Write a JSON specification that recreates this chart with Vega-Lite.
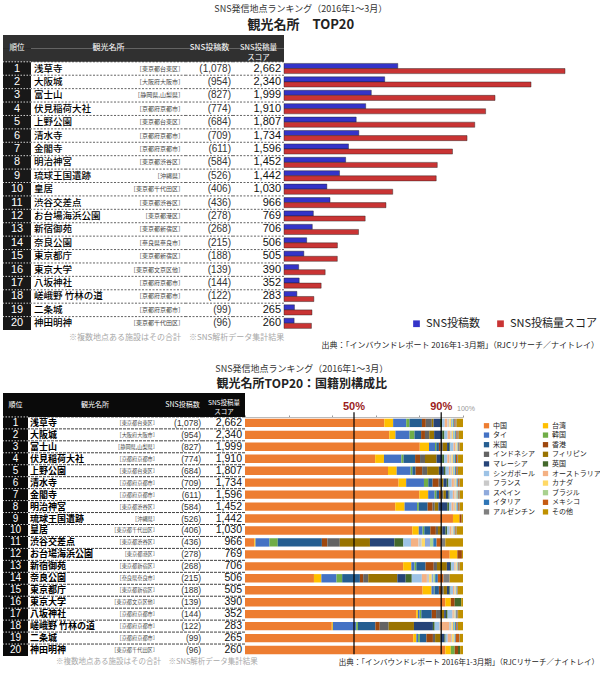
{
"$schema": "https://vega.github.io/schema/vega-lite/v6.json",
"background": "white",
"padding": {"left": 2, "top": 5, "right": 0, "bottom": 0},
"config": {"view": {"stroke": null}, "font": "Noto Sans CJK JP", "concat": {"spacing": 0}},
"resolve": {"scale": {"color": "independent"}, "legend": {"color": "independent"}},
"datasets": {
"top": [
{"rank":1,"name":"浅草寺","pref":"［東京都台東区］","posts":1078,"score":2662},
{"rank":2,"name":"大阪城","pref":"［大阪府大阪市］","posts":954,"score":2340},
{"rank":3,"name":"富士山","pref":"［静岡県,山梨県］","posts":827,"score":1999},
{"rank":4,"name":"伏見稲荷大社","pref":"［京都府京都市］","posts":774,"score":1910},
{"rank":5,"name":"上野公園","pref":"［東京都台東区］","posts":684,"score":1807},
{"rank":6,"name":"清水寺","pref":"［京都府京都市］","posts":709,"score":1734},
{"rank":7,"name":"金閣寺","pref":"［京都府京都市］","posts":611,"score":1596},
{"rank":8,"name":"明治神宮","pref":"［東京都渋谷区］","posts":584,"score":1452},
{"rank":9,"name":"琉球王国遺跡","pref":"［沖縄県］","posts":526,"score":1442},
{"rank":10,"name":"皇居","pref":"［東京都千代田区］","posts":406,"score":1030},
{"rank":11,"name":"渋谷交差点","pref":"［東京都渋谷区］","posts":436,"score":966},
{"rank":12,"name":"お台場海浜公園","pref":"［東京都港区］","posts":278,"score":769},
{"rank":13,"name":"新宿御苑","pref":"［東京都新宿区］","posts":268,"score":706},
{"rank":14,"name":"奈良公園","pref":"［奈良県奈良市］","posts":215,"score":506},
{"rank":15,"name":"東京都庁","pref":"［東京都新宿区］","posts":188,"score":505},
{"rank":16,"name":"東京大学","pref":"［東京都文京区他］","posts":139,"score":390},
{"rank":17,"name":"八坂神社","pref":"［京都府京都市］","posts":144,"score":352},
{"rank":18,"name":"嵯峨野 竹林の道","pref":"［京都府京都市］","posts":122,"score":283},
{"rank":19,"name":"二条城","pref":"［京都府京都市］","posts":99,"score":265},
{"rank":20,"name":"神田明神","pref":"［東京都千代田区］","posts":96,"score":260}
],
"countries": [
{"c":"中国","k":1},{"c":"台湾","k":2},{"c":"タイ","k":3},{"c":"韓国","k":4},{"c":"米国","k":5},{"c":"香港","k":6},{"c":"インドネシア","k":7},{"c":"フィリピン","k":8},{"c":"マレーシア","k":9},{"c":"英国","k":10},{"c":"シンガポール","k":11},{"c":"オーストラリア","k":12},{"c":"フランス","k":13},{"c":"カナダ","k":14},{"c":"スペイン","k":15},{"c":"ブラジル","k":16},{"c":"イタリア","k":17},{"c":"メキシコ","k":18},{"c":"アルゼンチン","k":19},{"c":"その他","k":20}
],
"mix": [
{"rank":1,"中国":64.8,"台湾":4.1,"タイ":6.1,"韓国":1.5,"米国":5.8,"香港":1.8,"インドネシア":2.8,"フィリピン":0.8,"マレーシア":3.0,"英国":1.0,"シンガポール":1.2,"オーストラリア":1.2,"フランス":1.0,"カナダ":0.8,"スペイン":0.5,"ブラジル":0.5,"イタリア":0.5,"メキシコ":0.5,"アルゼンチン":0.5,"その他":3.0},
{"rank":2,"中国":67.5,"台湾":2.9,"タイ":6.6,"韓国":2.3,"米国":3.1,"香港":1.8,"インドネシア":2.0,"フィリピン":2.3,"マレーシア":3.8,"英国":1.0,"シンガポール":1.5,"オーストラリア":1.2,"フランス":0.8,"カナダ":0.6,"スペイン":0.5,"ブラジル":0.5,"イタリア":0.5,"メキシコ":0.6,"アルゼンチン":0.5,"その他":2.0},
{"rank":3,"中国":81.2,"台湾":4.3,"タイ":2.8,"韓国":0.6,"米国":1.2,"香港":0.8,"インドネシア":1.0,"フィリピン":2.0,"マレーシア":1.0,"英国":0.5,"シンガポール":1.5,"オーストラリア":0.8,"フランス":0.5,"カナダ":0.3,"スペイン":0.3,"ブラジル":0.2,"イタリア":0.3,"メキシコ":0.3,"アルゼンチン":0.2,"その他":1.5},
{"rank":4,"中国":60.6,"台湾":4.1,"タイ":8.1,"韓国":1.0,"米国":5.4,"香港":2.3,"インドネシア":2.3,"フィリピン":5.4,"マレーシア":2.6,"英国":0.9,"シンガポール":1.5,"オーストラリア":1.0,"フランス":1.0,"カナダ":0.6,"スペイン":0.5,"ブラジル":0.4,"イタリア":0.5,"メキシコ":0.6,"アルゼンチン":0.4,"その他":2.3},
{"rank":5,"中国":65.8,"台湾":4.0,"タイ":6.4,"韓国":0.8,"米国":1.5,"香港":3.0,"インドネシア":2.3,"フィリピン":5.4,"マレーシア":2.3,"英国":0.8,"シンガポール":1.5,"オーストラリア":0.8,"フランス":0.7,"カナダ":0.5,"スペイン":0.5,"ブラジル":0.4,"イタリア":0.5,"メキシコ":0.4,"アルゼンチン":0.4,"その他":2.3},
{"rank":6,"中国":70.8,"台湾":3.5,"タイ":8.2,"韓国":2.0,"米国":2.0,"香港":2.8,"インドネシア":1.0,"フィリピン":1.2,"マレーシア":1.5,"英国":0.8,"シンガポール":1.5,"オーストラリア":1.0,"フランス":0.5,"カナダ":0.4,"スペイン":0.4,"ブラジル":0.3,"イタリア":0.4,"メキシコ":0.4,"アルゼンチン":0.3,"その他":1.5},
{"rank":7,"中国":80.6,"台湾":4.1,"タイ":3.0,"韓国":0.8,"米国":1.2,"香港":1.0,"インドネシア":1.0,"フィリピン":1.2,"マレーシア":1.2,"英国":0.5,"シンガポール":1.5,"オーストラリア":0.8,"フランス":0.5,"カナダ":0.4,"スペイン":0.3,"ブラジル":0.3,"イタリア":0.3,"メキシコ":0.3,"アルゼンチン":0.3,"その他":1.5},
{"rank":8,"中国":69.7,"台湾":4.3,"タイ":5.8,"韓国":0.8,"米国":4.1,"香港":2.3,"インドネシア":1.0,"フィリピン":1.7,"マレーシア":4.1,"英国":0.8,"シンガポール":1.2,"オーストラリア":1.0,"フランス":0.6,"カナダ":0.4,"スペイン":0.4,"ブラジル":0.3,"イタリア":0.4,"メキシコ":0.4,"アルゼンチン":0.3,"その他":1.5},
{"rank":9,"中国":95.4,"台湾":3.0,"タイ":0,"韓国":0,"米国":0,"香港":1.0,"インドネシア":0,"フィリピン":0,"マレーシア":0,"英国":0,"シンガポール":0,"オーストラリア":0,"フランス":0,"カナダ":0,"スペイン":0,"ブラジル":0,"イタリア":0,"メキシコ":0,"アルゼンチン":0,"その他":0.6},
{"rank":10,"中国":78.3,"台湾":3.0,"タイ":1.8,"韓国":0.8,"米国":2.8,"香港":2.6,"インドネシア":1.0,"フィリピン":2.0,"マレーシア":1.5,"英国":0.8,"シンガポール":1.2,"オーストラリア":0.8,"フランス":0.5,"カナダ":0.4,"スペイン":0.3,"ブラジル":0.3,"イタリア":0.3,"メキシコ":0.3,"アルゼンチン":0.3,"その他":3.0},
{"rank":11,"中国":4.3,"台湾":0.5,"タイ":6.4,"韓国":3.8,"米国":20.2,"香港":2.5,"インドネシア":5.7,"フィリピン":13.8,"マレーシア":11.2,"英国":4.1,"シンガポール":3.5,"オーストラリア":3.4,"フランス":1.5,"カナダ":1.5,"スペイン":2.3,"ブラジル":1.5,"イタリア":1.5,"メキシコ":2.0,"アルゼンチン":2.0,"その他":8.1},
{"rank":12,"中国":93.9,"台湾":3.5,"タイ":0,"韓国":0,"米国":0,"香港":2.1,"インドネシア":0,"フィリピン":0,"マレーシア":0,"英国":0,"シンガポール":0,"オーストラリア":0,"フランス":0,"カナダ":0,"スペイン":0,"ブラジル":0,"イタリア":0,"メキシコ":0,"アルゼンチン":0,"その他":0.5},
{"rank":13,"中国":73.5,"台湾":3.8,"タイ":1.5,"韓国":0.8,"米国":4.3,"香港":3.8,"インドネシア":1.5,"フィリピン":4.6,"マレーシア":1.5,"英国":0.5,"シンガポール":1.5,"オーストラリア":0.5,"フランス":0.4,"カナダ":0.3,"スペイン":0.2,"ブラジル":0.2,"イタリア":0.3,"メキシコ":0.3,"アルゼンチン":0.3,"その他":1.5},
{"rank":14,"中国":31.5,"台湾":3.4,"タイ":6.9,"韓国":2.6,"米国":8.1,"香港":1.5,"インドネシア":2.3,"フィリピン":13.3,"マレーシア":3.8,"英国":2.8,"シンガポール":4.6,"オーストラリア":2.3,"フランス":1.0,"カナダ":1.2,"スペイン":0.8,"ブラジル":0.8,"イタリア":1.2,"メキシコ":2.6,"アルゼンチン":2.8,"その他":6.1},
{"rank":15,"中国":81.8,"台湾":4.1,"タイ":1.1,"韓国":0.3,"米国":2.0,"香港":1.0,"インドネシア":1.2,"フィリピン":1.5,"マレーシア":1.1,"英国":0.5,"シンガポール":1.2,"オーストラリア":0.6,"フランス":0.4,"カナダ":0.3,"スペイン":0.2,"ブラジル":0.2,"イタリア":0.2,"メキシコ":0.2,"アルゼンチン":0.2,"その他":2.3},
{"rank":16,"中国":91.9,"台湾":2.5,"タイ":0,"韓国":0,"米国":0,"香港":1.8,"インドネシア":0,"フィリピン":0,"マレーシア":0,"英国":3.0,"シンガポール":0,"オーストラリア":0,"フランス":0,"カナダ":0,"スペイン":0,"ブラジル":0,"イタリア":0,"メキシコ":0,"アルゼンチン":0,"その他":0.8},
{"rank":17,"中国":80.1,"台湾":0.8,"タイ":0.8,"韓国":0.8,"米国":4.9,"香港":2.0,"インドネシア":2.3,"フィリピン":1.5,"マレーシア":0.8,"英国":0.8,"シンガポール":2.3,"オーストラリア":0.6,"フランス":0.4,"カナダ":0.3,"スペイン":0.2,"ブラジル":0.2,"イタリア":0.3,"メキシコ":0.3,"アルゼンチン":0.3,"その他":2.3},
{"rank":18,"中国":39.8,"台湾":0.5,"タイ":10.7,"韓国":0.8,"米国":8.0,"香港":2.0,"インドネシア":4.1,"フィリピン":11.6,"マレーシア":8.7,"英国":0.8,"シンガポール":2.3,"オーストラリア":4.3,"フランス":1.2,"カナダ":0.6,"スペイン":0.5,"ブラジル":0.5,"イタリア":0.5,"メキシコ":0.4,"アルゼンチン":0.4,"その他":2.3},
{"rank":19,"中国":77.2,"台湾":1.4,"タイ":0.8,"韓国":0.8,"米国":3.0,"香港":3.0,"インドネシア":1.0,"フィリピン":2.5,"マレーシア":1.8,"英国":0.5,"シンガポール":1.0,"オーストラリア":1.5,"フランス":0.5,"カナダ":0.8,"スペイン":0.3,"ブラジル":0.3,"イタリア":0.3,"メキシコ":1.5,"アルゼンチン":0.3,"その他":1.5},
{"rank":20,"中国":91.9,"台湾":2.5,"タイ":0,"韓国":1.8,"米国":0,"香港":1.5,"インドネシア":0,"フィリピン":0,"マレーシア":0,"英国":1.0,"シンガポール":0,"オーストラリア":0,"フランス":0,"カナダ":0,"スペイン":0,"ブラジル":0,"イタリア":0,"メキシコ":0,"アルゼンチン":0,"その他":1.3}
]
},
"spacing": 15,
"vconcat": [
{
"title": {"text": "SNS発信地点ランキング（2016年1～3月）", "subtitle": "観光名所　TOP20", "anchor": "middle", "fontSize": 9, "fontWeight": "normal", "color": "#333", "subtitleFontSize": 13, "subtitleFontWeight": "bold", "subtitleColor": "#222", "subtitlePadding": 5, "offset": 3, "font": "Noto Sans CJK JP", "subtitleFont": "Noto Sans CJK JP"},
"bounds": "flush",
"spacing": 0,
"resolve": {"scale": {"color": "independent"}, "legend": {"color": "independent"}},
"hconcat": [
{
"width": 28, "height": 295,
"view": {"fill": "#181818", "stroke": null},
"title": {"text": "※複数地点ある施設はその合計　※SNS解析データ集計結果", "orient": "bottom", "anchor": "start", "frame": "group", "dx": 66, "offset": 4, "fontSize": 8, "fontWeight": "normal", "color": "#a8a8a8"},
"layer": [
{"data": {"values": [{}]}, "mark": {"type": "rect", "fill": "#303030"}, "encoding": {"y": {"datum": "h1", "type": "ordinal", "scale": {"domain": ["h1","h2",1,2,3,4,5,6,7,8,9,10,11,12,13,14,15,16,17,18,19,20], "paddingInner": 0, "paddingOuter": 0}, "axis": null}}},
{"data": {"values": [{}]}, "mark": {"type": "rect", "fill": "#303030"}, "encoding": {"y": {"datum": "h2", "type": "ordinal"}}},
{"data": {"values": [{}]}, "mark": {"type": "text", "color": "#fff", "fontSize": 7.5}, "encoding": {"y": {"datum": "h1", "type": "ordinal", "bandPosition": 1}, "text": {"value": "順位"}}},
{"data": {"name": "top"}, "mark": {"type": "rule", "color": "#fff", "strokeDash": [1.5, 1.5], "strokeWidth": 0.8}, "encoding": {"y": {"field": "rank", "type": "ordinal", "bandPosition": 0}}},
{"data": {"name": "top"}, "mark": {"type": "text", "color": "#fff", "font": "Liberation Sans", "fontSize": 11}, "encoding": {"y": {"field": "rank", "type": "ordinal"}, "text": {"field": "rank", "type": "nominal"}}}
]
},
{
"width": 155, "height": 295,
"view": {"fill": "#fff", "stroke": null},
"layer": [
{"data": {"values": [{}]}, "mark": {"type": "rect", "fill": "#303030"}, "encoding": {"y": {"datum": "h1", "type": "ordinal", "scale": {"domain": ["h1","h2",1,2,3,4,5,6,7,8,9,10,11,12,13,14,15,16,17,18,19,20], "paddingInner": 0, "paddingOuter": 0}, "axis": null}}},
{"data": {"values": [{}]}, "mark": {"type": "rect", "fill": "#303030"}, "encoding": {"y": {"datum": "h2", "type": "ordinal"}}},
{"data": {"values": [{}]}, "mark": {"type": "text", "color": "#fff", "fontSize": 8}, "encoding": {"y": {"datum": "h1", "type": "ordinal", "bandPosition": 1}, "text": {"value": "観光名所"}}},
{"data": {"name": "top"}, "mark": {"type": "rule", "color": "#222", "strokeDash": [2, 1.5], "strokeWidth": 0.7}, "encoding": {"y": {"field": "rank", "type": "ordinal", "bandPosition": 0}}},
{"data": {"name": "top"}, "mark": {"type": "text", "align": "left", "dx": 3, "fontSize": 9.5, "fontWeight": 500, "color": "#000"}, "encoding": {"y": {"field": "rank", "type": "ordinal"}, "x": {"datum": 0, "type": "quantitative", "scale": {"domain": [0, 1]}, "axis": null}, "text": {"field": "name", "type": "nominal"}}},
{"data": {"name": "top"}, "mark": {"type": "text", "align": "right", "dx": -2, "fontSize": 6, "color": "#444"}, "encoding": {"y": {"field": "rank", "type": "ordinal"}, "x": {"datum": 1, "type": "quantitative"}, "text": {"field": "pref", "type": "nominal"}}}
]
},
{
"width": 47, "height": 295,
"view": {"fill": "#fff", "stroke": null},
"layer": [
{"data": {"values": [{}]}, "mark": {"type": "rect", "fill": "#303030"}, "encoding": {"y": {"datum": "h1", "type": "ordinal", "scale": {"domain": ["h1","h2",1,2,3,4,5,6,7,8,9,10,11,12,13,14,15,16,17,18,19,20], "paddingInner": 0, "paddingOuter": 0}, "axis": null}}},
{"data": {"values": [{}]}, "mark": {"type": "rect", "fill": "#303030"}, "encoding": {"y": {"datum": "h2", "type": "ordinal"}}},
{"data": {"values": [{}]}, "mark": {"type": "text", "color": "#fff", "fontSize": 8}, "encoding": {"y": {"datum": "h1", "type": "ordinal", "bandPosition": 1}, "text": {"value": "SNS投稿数"}}},
{"data": {"name": "top"}, "mark": {"type": "rule", "color": "#222", "strokeDash": [2, 1.5], "strokeWidth": 0.7}, "encoding": {"y": {"field": "rank", "type": "ordinal", "bandPosition": 0}}},
{"data": {"name": "top"}, "transform": [{"calculate": "'(' + format(datum.posts, ',') + ')'", "as": "postsLabel"}], "mark": {"type": "text", "align": "right", "dx": -2, "fontSize": 10, "font": "Liberation Sans", "color": "#333"}, "encoding": {"y": {"field": "rank", "type": "ordinal"}, "x": {"datum": 1, "type": "quantitative", "scale": {"domain": [0, 1]}, "axis": null}, "text": {"field": "postsLabel", "type": "nominal"}}}
]
},
{
"width": 51, "height": 295,
"view": {"fill": "#fff", "stroke": null},
"layer": [
{"data": {"values": [{}]}, "mark": {"type": "rect", "fill": "#303030"}, "encoding": {"y": {"datum": "h1", "type": "ordinal", "scale": {"domain": ["h1","h2",1,2,3,4,5,6,7,8,9,10,11,12,13,14,15,16,17,18,19,20], "paddingInner": 0, "paddingOuter": 0}, "axis": null}}},
{"data": {"values": [{}]}, "mark": {"type": "rect", "fill": "#303030"}, "encoding": {"y": {"datum": "h2", "type": "ordinal"}}},
{"data": {"values": [{}]}, "mark": {"type": "text", "color": "#fff", "fontSize": 7.5, "lineBreak": "\n", "lineHeight": 10}, "encoding": {"y": {"datum": "h1", "type": "ordinal", "bandPosition": 1}, "text": {"value": "SNS投稿量\nスコア"}}},
{"data": {"name": "top"}, "mark": {"type": "rule", "color": "#222", "strokeDash": [2, 1.5], "strokeWidth": 0.7}, "encoding": {"y": {"field": "rank", "type": "ordinal", "bandPosition": 0}}},
{"data": {"name": "top"}, "mark": {"type": "text", "align": "right", "dx": -3, "fontSize": 11, "font": "Liberation Sans", "color": "#111"}, "encoding": {"y": {"field": "rank", "type": "ordinal"}, "x": {"datum": 1, "type": "quantitative", "scale": {"domain": [0, 1]}, "axis": null}, "text": {"field": "score", "type": "quantitative", "format": ","}}}
]
},
{
"width": 315, "height": 295,
"title": {"text": "出典：「インバウンドレポート 2016年1-3月期」（RJCリサーチ／ナイトレイ）", "orient": "bottom", "anchor": "end", "frame": "group", "offset": 12, "fontSize": 8, "fontWeight": "normal", "color": "#222"},
"data": {"name": "top"},
"transform": [{"fold": ["posts", "score"], "as": ["series", "value"]}],
"mark": {"type": "bar", "stroke": "#202020", "strokeWidth": 0.6, "strokeOpacity": 0.7},
"encoding": {
"y": {"field": "rank", "type": "ordinal", "scale": {"domain": ["h1","h2",1,2,3,4,5,6,7,8,9,10,11,12,13,14,15,16,17,18,19,20], "paddingInner": 0.24, "paddingOuter": 0.12}, "axis": null},
"x": {"field": "value", "type": "quantitative", "stack": null, "scale": {"domain": [0, 2984], "nice": false}, "axis": null},
"yOffset": {"field": "series", "type": "nominal", "scale": {"domain": ["posts", "score"], "paddingInner": 0, "paddingOuter": 0}},
"color": {"field": "series", "type": "nominal", "scale": {"domain": ["posts", "score"], "range": ["#3434c8", "#c93434"]},
"legend": {"title": null, "orient": "bottom-right", "direction": "horizontal", "offset": 1, "padding": 0, "symbolType": "square", "symbolSize": 45, "symbolStrokeWidth": 0, "labelFontSize": 11, "labelFont": "Noto Sans CJK JP", "labelColor": "#222", "columnPadding": 14, "labelLimit": 200, "labelExpr": "datum.label == 'posts' ? 'SNS投稿数' : 'SNS投稿量スコア'"}}
}
}
]
},
{
"title": {"text": "SNS発信地点ランキング（2016年1～3月）", "subtitle": "観光名所TOP20：国籍別構成比", "anchor": "middle", "fontSize": 9, "fontWeight": "normal", "color": "#333", "subtitleFontSize": 12, "subtitleFontWeight": "bold", "subtitleColor": "#222", "subtitlePadding": 5, "offset": 3, "font": "Noto Sans CJK JP", "subtitleFont": "Noto Sans CJK JP"},
"bounds": "flush",
"spacing": 0,
"resolve": {"scale": {"color": "independent"}, "legend": {"color": "independent"}},
"hconcat": [
{
"width": 25, "height": 263,
"view": {"fill": "#0a0a0a", "stroke": null},
"title": {"text": "※複数地点ある施設はその合計　※SNS解析データ集計結果", "orient": "bottom", "anchor": "start", "frame": "group", "dx": 53, "offset": 2, "fontSize": 7.5, "fontWeight": "normal", "color": "#a8a8a8"},
"layer": [
{"data": {"values": [{}]}, "mark": {"type": "text", "color": "#fff", "fontSize": 7}, "encoding": {"y": {"datum": "h1", "type": "ordinal", "bandPosition": 1, "scale": {"domain": ["h1","h2",1,2,3,4,5,6,7,8,9,10,11,12,13,14,15,16,17,18,19,20], "paddingInner": 0, "paddingOuter": 0}, "axis": null}, "text": {"value": "順位"}}},
{"data": {"name": "top"}, "mark": {"type": "rule", "color": "#fff", "strokeDash": [1.5, 1.5], "strokeWidth": 0.8}, "encoding": {"y": {"field": "rank", "type": "ordinal", "bandPosition": 0}}},
{"data": {"name": "top"}, "mark": {"type": "text", "color": "#fff", "font": "Liberation Sans", "fontSize": 10}, "encoding": {"y": {"field": "rank", "type": "ordinal"}, "text": {"field": "rank", "type": "nominal"}}}
]
},
{
"width": 134, "height": 263,
"view": {"fill": "#fff", "stroke": null},
"layer": [
{"data": {"values": [{}]}, "mark": {"type": "rect", "fill": "#0a0a0a"}, "encoding": {"y": {"datum": "h1", "type": "ordinal", "scale": {"domain": ["h1","h2",1,2,3,4,5,6,7,8,9,10,11,12,13,14,15,16,17,18,19,20], "paddingInner": 0, "paddingOuter": 0}, "axis": null}}},
{"data": {"values": [{}]}, "mark": {"type": "rect", "fill": "#0a0a0a"}, "encoding": {"y": {"datum": "h2", "type": "ordinal"}}},
{"data": {"values": [{}]}, "mark": {"type": "text", "color": "#fff", "fontSize": 7}, "encoding": {"y": {"datum": "h1", "type": "ordinal", "bandPosition": 1}, "text": {"value": "観光名所"}}},
{"data": {"name": "top"}, "mark": {"type": "rule", "color": "#111", "strokeDash": [3, 1], "strokeWidth": 0.8}, "encoding": {"y": {"field": "rank", "type": "ordinal", "bandPosition": 0}}},
{"data": {"name": "top"}, "mark": {"type": "text", "align": "left", "dx": 2, "fontSize": 9, "fontWeight": "bold", "color": "#000"}, "encoding": {"y": {"field": "rank", "type": "ordinal"}, "x": {"datum": 0, "type": "quantitative", "scale": {"domain": [0, 1]}, "axis": null}, "text": {"field": "name", "type": "nominal"}}},
{"data": {"name": "top"}, "mark": {"type": "text", "align": "right", "dx": -4, "fontSize": 5.2, "color": "#444"}, "encoding": {"y": {"field": "rank", "type": "ordinal"}, "x": {"datum": 1, "type": "quantitative"}, "text": {"field": "pref", "type": "nominal"}}}
]
},
{
"width": 41, "height": 263,
"view": {"fill": "#fff", "stroke": null},
"layer": [
{"data": {"values": [{}]}, "mark": {"type": "rect", "fill": "#0a0a0a"}, "encoding": {"y": {"datum": "h1", "type": "ordinal", "scale": {"domain": ["h1","h2",1,2,3,4,5,6,7,8,9,10,11,12,13,14,15,16,17,18,19,20], "paddingInner": 0, "paddingOuter": 0}, "axis": null}}},
{"data": {"values": [{}]}, "mark": {"type": "rect", "fill": "#0a0a0a"}, "encoding": {"y": {"datum": "h2", "type": "ordinal"}}},
{"data": {"values": [{}]}, "mark": {"type": "text", "color": "#fff", "fontSize": 7}, "encoding": {"y": {"datum": "h1", "type": "ordinal", "bandPosition": 1}, "text": {"value": "SNS投稿数"}}},
{"data": {"name": "top"}, "mark": {"type": "rule", "color": "#111", "strokeDash": [3, 1], "strokeWidth": 0.8}, "encoding": {"y": {"field": "rank", "type": "ordinal", "bandPosition": 0}}},
{"data": {"name": "top"}, "transform": [{"calculate": "'(' + format(datum.posts, ',') + ')'", "as": "postsLabel"}], "mark": {"type": "text", "align": "right", "dx": -2, "fontSize": 8.5, "font": "Liberation Sans", "color": "#333"}, "encoding": {"y": {"field": "rank", "type": "ordinal"}, "x": {"datum": 1, "type": "quantitative", "scale": {"domain": [0, 1]}, "axis": null}, "text": {"field": "postsLabel", "type": "nominal"}}}
]
},
{
"width": 42, "height": 263,
"view": {"fill": "#fff", "stroke": null},
"layer": [
{"data": {"values": [{}]}, "mark": {"type": "rect", "fill": "#0a0a0a"}, "encoding": {"y": {"datum": "h1", "type": "ordinal", "scale": {"domain": ["h1","h2",1,2,3,4,5,6,7,8,9,10,11,12,13,14,15,16,17,18,19,20], "paddingInner": 0, "paddingOuter": 0}, "axis": null}}},
{"data": {"values": [{}]}, "mark": {"type": "rect", "fill": "#0a0a0a"}, "encoding": {"y": {"datum": "h2", "type": "ordinal"}}},
{"data": {"values": [{}]}, "mark": {"type": "text", "color": "#fff", "fontSize": 6.5, "lineBreak": "\n", "lineHeight": 9.5}, "encoding": {"y": {"datum": "h1", "type": "ordinal", "bandPosition": 0.8}, "text": {"value": "SNS投稿量\nスコア"}}},
{"data": {"name": "top"}, "mark": {"type": "rule", "color": "#111", "strokeDash": [3, 1], "strokeWidth": 0.8}, "encoding": {"y": {"field": "rank", "type": "ordinal", "bandPosition": 0}}},
{"data": {"name": "top"}, "mark": {"type": "text", "align": "right", "dx": -3, "fontSize": 10.5, "font": "Liberation Sans", "color": "#111"}, "encoding": {"y": {"field": "rank", "type": "ordinal"}, "x": {"datum": 1, "type": "quantitative", "scale": {"domain": [0, 1]}, "axis": null}, "text": {"field": "score", "type": "quantitative", "format": ","}}}
]
},
{
"width": 218, "height": 263,
"title": {"text": "出典：「インバウンドレポート 2016年1-3月期」（RJCリサーチ／ナイトレイ）", "orient": "bottom", "anchor": "end", "frame": "group", "dx": 136, "offset": 3, "fontSize": 7.5, "fontWeight": "normal", "color": "#222"},
"layer": [
{
"data": {"name": "mix"},
"transform": [
{"fold": ["中国","台湾","タイ","韓国","米国","香港","インドネシア","フィリピン","マレーシア","英国","シンガポール","オーストラリア","フランス","カナダ","スペイン","ブラジル","イタリア","メキシコ","アルゼンチン","その他"], "as": ["country", "share"]},
{"lookup": "country", "from": {"data": {"name": "countries"}, "key": "c", "fields": ["k"]}}
],
"mark": {"type": "bar"},
"encoding": {
"y": {"field": "rank", "type": "ordinal", "scale": {"domain": ["h1","h2",1,2,3,4,5,6,7,8,9,10,11,12,13,14,15,16,17,18,19,20], "paddingInner": 0.3, "paddingOuter": 0.15}, "axis": null},
"x": {"field": "share", "type": "quantitative", "stack": "normalize", "scale": {"domain": [0, 1], "nice": false},
"axis": {"orient": "top", "offset": -24, "values": [0,0.1,0.2,0.3,0.4,0.5,0.6,0.7,0.8,0.9,1], "grid": false, "title": null, "domainColor": "#bbb", "tickColor": "#999", "tickSize": 2, "labels": false}},
"order": {"field": "k", "type": "quantitative"},
"color": {"field": "country", "type": "nominal",
"scale": {"domain": ["中国","台湾","タイ","韓国","米国","香港","インドネシア","フィリピン","マレーシア","英国","シンガポール","オーストラリア","フランス","カナダ","スペイン","ブラジル","イタリア","メキシコ","アルゼンチン","その他"],
"range": ["#ED7D31","#FFC000","#4472C4","#70AD47","#255E91","#9E480E","#636363","#997300","#264478","#43682B","#9DC3E6","#F4B183","#C9C9C9","#FFD966","#8FAADC","#A9D18E","#2E75B6","#C55A11","#7F7F7F","#BF9000"]},
"legend": {"title": null, "orient": "none", "legendX": 238, "legendY": 29, "columns": 2, "values": ["中国","タイ","米国","インドネシア","マレーシア","シンガポール","フランス","スペイン","イタリア","アルゼンチン","台湾","韓国","香港","フィリピン","英国","オーストラリア","カナダ","ブラジル","メキシコ","その他"], "symbolType": "square", "symbolSize": 28, "symbolStrokeWidth": 0, "labelFontSize": 7, "labelFont": "Noto Sans CJK JP", "labelColor": "#222", "rowPadding": 1.6, "columnPadding": 7, "labelOffset": 3, "padding": 0}}
}
},
{
"data": {"values": [{"p": 0.5}, {"p": 0.9}]},
"mark": {"type": "rule", "color": "#000", "strokeWidth": 1.2},
"encoding": {"x": {"field": "p", "type": "quantitative"}, "y": {"datum": "h2", "type": "ordinal", "bandPosition": 0.65}, "y2": {"datum": 20, "bandPosition": 1}}
},
{
"data": {"values": [{"p": 0.5, "label": "50%"}, {"p": 0.9, "label": "90%"}]},
"mark": {"type": "text", "font": "Liberation Sans", "fontWeight": "bold", "fontSize": 11, "color": "#9b1c1c", "baseline": "bottom"},
"encoding": {"x": {"field": "p", "type": "quantitative"}, "y": {"datum": "h2", "type": "ordinal", "bandPosition": 0.6}, "text": {"field": "label", "type": "nominal"}}
},
{
"data": {"values": [{"p": 1, "label": "100%"}]},
"mark": {"type": "text", "font": "Liberation Sans", "fontSize": 7, "color": "#999", "baseline": "bottom", "dx": 3},
"encoding": {"x": {"field": "p", "type": "quantitative"}, "y": {"datum": "h2", "type": "ordinal", "bandPosition": 0.6}, "text": {"field": "label", "type": "nominal"}}
}
]
}
]
}
]
}
